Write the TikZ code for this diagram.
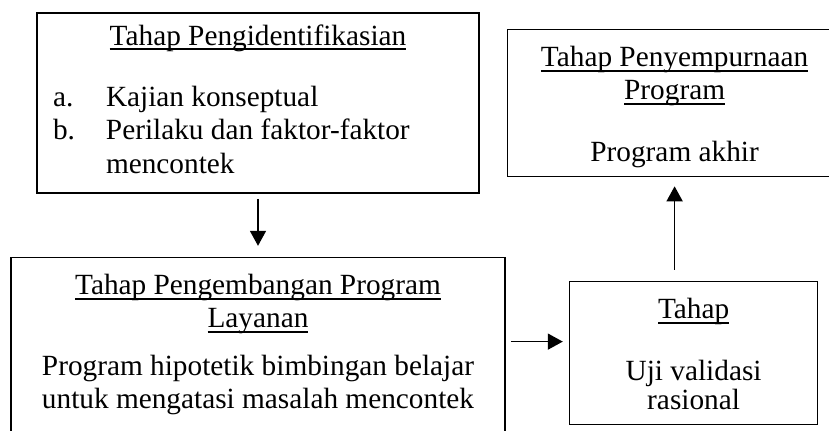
\documentclass[tikz,border=0pt]{standalone}
\usepackage{fontspec}
\setmainfont{Liberation Serif}
\usetikzlibrary{positioning,arrows.meta}
\newcommand{\judul}[1]{\leavevmode\setbox0\hbox{#1}\rlap{\rule[-2.5pt]{\wd0}{0.8pt}}\box0}
\begin{document}
\begin{tikzpicture}[auto,node distance=31.5pt,
     thick,stage node/.style={rectangle,draw,align=flush center,
     inner xsep=8pt,inner ysep=8.5pt,text height=10pt,
     font=\fontsize{14.65pt}{16.6pt}\selectfont},
     flow/.style={-{Triangle[length=7.5pt,width=8pt]}}]

      \clip[use as bounding box] (0,0) rectangle (414.5pt,-215pt);

      \node[stage node,text width=205pt,align=flush left,text height=7.5pt,text depth=65.5pt] (1) at (129pt,-51.5pt)
        {\makebox[\hsize]{\judul{Tahap Pengidentifikasian}}\\[14.25pt]
         \makebox[26.5pt][l]{a.}Kajian konseptual\\
         \makebox[26.5pt][l]{b.}Perilaku dan faktor-faktor\\
         \hspace*{26.5pt}mencontek};
      \node[stage node,text width=151pt,text depth=46.5pt] (2) [right=13.5pt of 1]
        {\judul{Tahap Penyempurnaan}\\ \judul{Program}\\[14.25pt] Program akhir};
      \node[stage node,text width=231pt,text depth=68.5pt] (3) [below=of 1]
        {\judul{Tahap Pengembangan Program}\\ \judul{Layanan}\\[7.25pt]
         Program hipotetik bimbingan belajar\\ untuk mengatasi masalah mencontek};
      \node[stage node,text width=108pt,text depth=44.5pt] (4) [right=of 3]
        {\judul{Tahap}\\[14.25pt] Uji validasi\\[-2pt] rasional};

      \draw[flow,shorten <=2.5pt,shorten >=5.5pt] (1) -- (3);
      \draw[flow,shorten <=2.5pt,shorten >=3pt] ([yshift=5.75pt]3.east) -- ([yshift=5.75pt]4.west);
      \draw[flow,shorten <=5.5pt,shorten >=4.5pt] (4.north -| 2.south) -- (2.south);
    \end{tikzpicture}
\end{document}
